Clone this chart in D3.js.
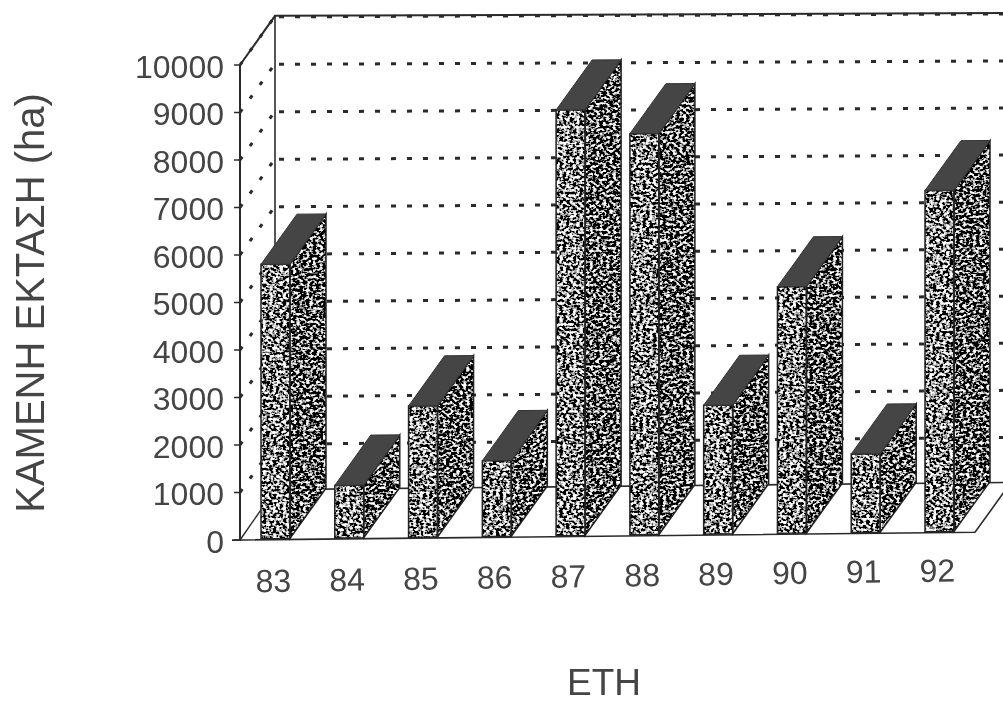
<!DOCTYPE html>
<html><head><meta charset="utf-8">
<style>html,body{margin:0;background:#fff}svg{display:block}text{font-family:"Liberation Sans",Arial,sans-serif;fill:#444}</style>
<script src="https://cdn.jsdelivr.net/npm/d3@7"></script></head>
<body><svg id="c" width="1003" height="704"></svg>
<script>
const years=["83","84","85","86","87","88","89","90","91","92"];
const burned=[5800,1130,2790,1620,9020,8510,2750,5250,1690,7270];
const yTicks=[0,1000,2000,3000,4000,5000,6000,7000,8000,9000,10000];
const yTitle="ΚΑΜΕΝΗ ΕΚΤΑΣΗ (ha)";
const xTitle="ΕΤΗ";

const svg=d3.select("#c");
const defs=svg.append("defs");
function speckle(id,freq,slope,intercept,seed){
  const f=defs.append("filter").attr("id",id).attr("x",0).attr("y",0).attr("width",1).attr("height",1);
  f.append("feTurbulence").attr("type","fractalNoise").attr("baseFrequency",freq).attr("numOctaves",2).attr("seed",seed).attr("result","n");
  f.append("feColorMatrix").attr("in","n").attr("type","matrix")
   .attr("values",`${slope} 0 0 0 ${intercept} ${slope} 0 0 0 ${intercept} ${slope} 0 0 0 ${intercept} 0 0 0 0 1`).attr("result","t");
  f.append("feComposite").attr("in","t").attr("in2","SourceGraphic").attr("operator","in");
}
speckle("front","0.3 0.38",5,-2.2,3);
speckle("side","0.3 0.38",5,-2.4,8);
const soft=defs.append("filter").attr("id","soft");
soft.append("feGaussianBlur").attr("stdDeviation",0.55);

// scales
const yS=d3.scaleLinear().domain([0,10000]).range([540,65]);
const xS=d3.scaleBand().domain(years).range([261,954]).paddingInner(0.607).paddingOuter(0);
const depthX=36,depthY=50;
// the scanned page is slightly warped: lower parts of the figure tilt more than upper ones
const warp=(x,y)=>{const k=d3.scaleLinear().domain([16,540]).range([0.004,0.0105])(y);return [x,y-(x-240)*k];};
const path=pts=>d3.line()(pts.map(p=>warp(p[0],p[1])))+"Z";
const open=pts=>d3.line()(pts.map(p=>warp(p[0],p[1])));

const g=svg.append("g").attr("filter","url(#soft)");
const ink="#2b2b2b";
const L=240,R=975;

// frame
g.append("path").attr("d",open([[L+depthX-1,540-depthY],[L+depthX-1,16]])).attr("fill","none").attr("stroke",ink).attr("stroke-width",1.6);
g.append("path").attr("d",open([[L,540],[L,65],[L+depthX-1,16],[1010,16]])).attr("fill","none").attr("stroke",ink).attr("stroke-width",2);
g.append("path").attr("d",open([[L,540],[L+depthX-1,540-depthY]])).attr("fill","none").attr("stroke",ink).attr("stroke-width",1.4);
g.append("path").attr("d",open([[L-8,540],[R,540],[R+depthX,540-depthY],[1010,540-depthY]])).attr("fill","none").attr("stroke",ink).attr("stroke-width",1.6);
g.append("path").attr("d",open([[L+depthX-1,540-depthY],[1010,540-depthY]])).attr("fill","none").attr("stroke",ink).attr("stroke-width",1.6);

// grid and wall dots
const grid=yTicks.filter(d=>d>0);
g.selectAll(".grid").data(grid).join("path").attr("class","grid")
 .attr("d",d=>open([[L+depthX+3,yS(d)-depthY+2],[1010,yS(d)-depthY+2]]))
 .attr("fill","none").attr("stroke",ink).attr("stroke-width",3).attr("stroke-dasharray","5 11");
g.selectAll(".wall").data(grid).join("path").attr("class","wall")
 .attr("d",d=>open([[L,yS(d)],[L+depthX,yS(d)-depthY]]))
 .attr("fill","none").attr("stroke",ink).attr("stroke-width",3).attr("stroke-dasharray","4 13");
g.selectAll(".tick").data(yTicks).join("path").attr("class","tick")
 .attr("d",d=>open([[L-6,yS(d)],[L+1,yS(d)]])).attr("stroke",ink).attr("stroke-width",1.6);

// bars
const bars=g.selectAll(".bar").data(years.map((y,i)=>({y,v:burned[i]}))).join("g").attr("class","bar");
const geo=d=>({x0:xS(d.y),x1:xS(d.y)+xS.bandwidth(),t:yS(d.v),b:yS(0)-1});
const frontPts=d=>{const a=geo(d);return [[a.x0,a.b],[a.x0,a.t],[a.x1,a.t],[a.x1,a.b]];};
const sidePts=d=>{const a=geo(d);return [[a.x1,a.b],[a.x1,a.t],[a.x1+depthX,a.t-depthY],[a.x1+depthX,a.b-depthY]];};
const topPts=d=>{const a=geo(d);return [[a.x0,a.t],[a.x1,a.t],[a.x1+depthX,a.t-depthY],[a.x0+depthX,a.t-depthY]];};
bars.append("path").attr("d",d=>path(frontPts(d))).attr("fill","#000").attr("filter","url(#front)");
bars.append("path").attr("d",d=>path(sidePts(d))).attr("fill","#000").attr("filter","url(#side)");
bars.append("path").attr("d",d=>path(frontPts(d))).attr("fill","none").attr("stroke","#222").attr("stroke-width",1.5);
bars.append("path").attr("d",d=>path(sidePts(d))).attr("fill","none").attr("stroke","#222").attr("stroke-width",1.5);
bars.append("path").attr("d",d=>path(topPts(d))).attr("fill","#454545").attr("stroke","#333").attr("stroke-width",1);

// text
const t=svg.append("g").attr("filter","url(#soft)");
t.selectAll(".yl").data(yTicks).join("text").attr("class","yl")
 .attr("x",224).attr("y",d=>yS(d)+12.5).attr("text-anchor","end").attr("font-size",32).text(d=>d);
t.selectAll(".xl").data(years).join("text").attr("class","xl")
 .attr("text-anchor","middle").attr("font-size",32)
 .attr("transform",(d,i)=>`translate(${xS(d)+xS.bandwidth()/2-2},${592-i*1.15}) rotate(-0.9)`)
 .text(d=>d);
t.append("text").attr("transform","translate(44,303) rotate(-90)").attr("text-anchor","middle").attr("font-size",40).text(yTitle);
t.append("text").attr("x",604).attr("y",695).attr("text-anchor","middle").attr("font-size",37).text(xTitle);
</script></body></html>
